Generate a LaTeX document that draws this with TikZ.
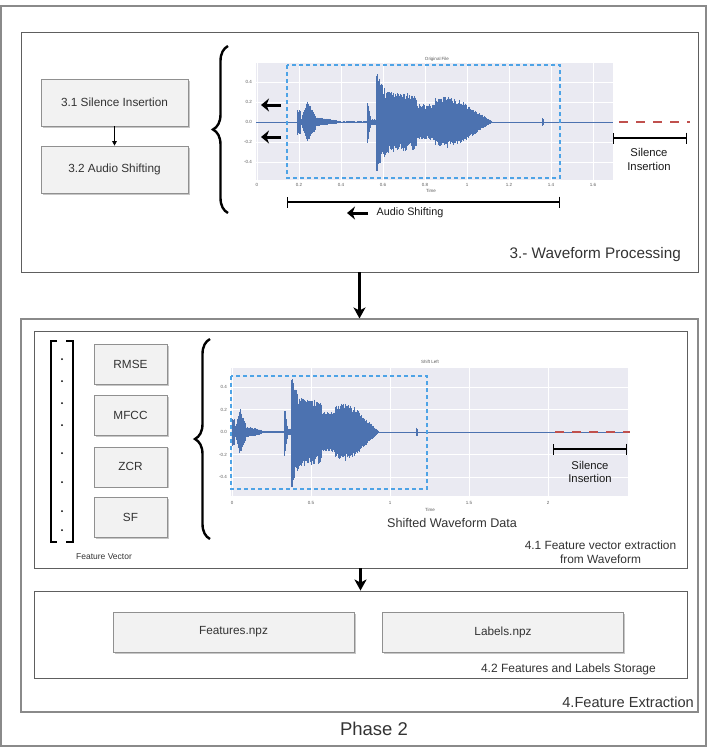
\documentclass[tikz,border=0pt]{standalone}
\usepackage{fontspec}
\setmainfont{Liberation Sans}
\usetikzlibrary{positioning, arrows.meta, calc, shadows, decorations.pathreplacing}

\definecolor{frameline}{HTML}{5E5E5E}
\definecolor{outerline}{HTML}{8A8A8A}
\definecolor{boxfill}{HTML}{F2F2F2}
\definecolor{boxline}{HTML}{909090}
\definecolor{boxtext}{HTML}{333333}
\definecolor{waveblue}{HTML}{4C72B0}
\definecolor{plotbg}{HTML}{EAEAF2}
\definecolor{cropblue}{HTML}{4DA3E6}
\definecolor{silred}{HTML}{C0504D}

\tikzset{
  zone/.style={draw=frameline, line width=0.9pt, inner sep=0pt},
  stage/.style={draw=boxline, fill=boxfill, line width=0.7pt, text=boxtext, inner sep=0pt,
    drop shadow={shadow xshift=1.5pt, shadow yshift=-1.5pt, fill=black!22, opacity=1},
    font=\fontsize{11.8}{14}\selectfont},
  caption/.style={text=boxtext, inner sep=0pt},
  ticklab/.style={font=\fontsize{4.5}{5}\selectfont, text=black!65, inner sep=0pt},
  annot/.style={text=black!90, inner sep=0pt, align=center},
  wavestroke/.style={draw=waveblue, line width=0.6pt},
  fatarrow/.style={line width=3pt, -{Stealth[length=8pt, width=13pt, inset=2.5pt]}},
  bigarrow/.style={line width=2.2pt, -{Stealth[length=11pt, width=12pt, inset=3pt]}},
  span/.style={line width=1.4pt, {Bar[width=11pt]}-{Bar[width=11pt]}},
  bigbrace/.style={line width=2.4pt, decorate, decoration={brace, amplitude=15pt}},
}

% one stretch of the clip: from, to, amplitude at start, amplitude at end
\newcommand\wavechunk[4]{%
  \pgfmathtruncatemacro\wn{max(1,round(2*(#2-#1)))}%
  \foreach \k in {0,...,\wn}{%
    \pgfmathsetmacro\wpos{#1+(#2-#1)*\k/\wn}%
    \pgfmathsetmacro\wamp{#3+(#4-#3)*\k/\wn}%
    \pgfmathsetmacro\wup{\wamp*(0.72+0.28*rnd)}%
    \pgfmathsetmacro\wdn{\wamp*(0.72+0.28*rnd)}%
    \draw[wavestroke] (\wpos,\wup) -- (\wpos,-\wdn);%
  }}

% the whole clip, in pixels of the first plot
\newcommand\speechclip{%
  \wavechunk{0}{3}{13}{13}
  \wavechunk{3}{5}{3}{3}
  \wavechunk{5}{10}{6}{22}
  \wavechunk{10}{18}{22}{8}
  \wavechunk{18}{39}{5}{2}
  \wavechunk{39}{70}{0.6}{0.6}
  \wavechunk{70}{73}{23}{8}
  \wavechunk{73}{79}{3}{3}
  \wavechunk{79}{81}{53}{53}
  \wavechunk{81}{88}{46}{33}
  \wavechunk{88}{119}{31}{28}
  \wavechunk{119}{138}{18}{18}
  \wavechunk{138}{150}{24}{26}
  \wavechunk{150}{163}{26}{22}
  \wavechunk{163}{195}{22}{0.6}
  \wavechunk{245}{246}{4}{4}}

\begin{document}
\begin{tikzpicture}[x=1pt, y=-1pt]
\useasboundingbox (0,0) rectangle (708,756);

% frames
\node[zone, draw=outerline, line width=1.2pt, minimum width=705pt, minimum height=740pt] (phasebox) at (353.5,376) {};
\node[zone, minimum width=677pt, minimum height=240pt] (wavebox) at (359.5,152) {};
\node[zone, draw=outerline, line width=1.1pt, minimum width=677pt, minimum height=393pt] (featbox) at (359.5,515.5) {};
\node[zone, minimum width=653pt, minimum height=237pt] (vecbox) at (360.5,449.5) {};
\node[zone, minimum width=653pt, minimum height=87pt] (storebox) at (360.5,634.5) {};

\node[caption, font=\fontsize{15.3}{17}\selectfont, anchor=east] (wavelab) at (681,255) {3.- Waveform Processing};
\node[caption, font=\fontsize{14.6}{17}\selectfont, anchor=east] (featlab) at (694,702) {4.Feature Extraction};
\node[caption, font=\fontsize{11.9}{14}\selectfont, align=center] (veclab) at (600.5,552) {4.1 Feature vector extraction\\from Waveform};
\node[caption, font=\fontsize{12}{14}\selectfont, anchor=east] (storelab) at (656,669) {4.2 Features and Labels Storage};
\node[caption, font=\fontsize{18.5}{20}\selectfont] (phaselab) at (374,729) {Phase 2};

% stage 3
\node[stage, minimum width=147pt, minimum height=47pt] (silbox) at (114.5,102.5) {3.1 Silence Insertion};
\node[stage, minimum width=147pt, minimum height=47pt] (shiftbox) at (114.5,169.5) {3.2 Audio Shifting};
\draw[line width=0.8pt, -{Triangle[length=4.5pt, width=4.5pt]}] (silbox) -- (shiftbox);
\draw[bigbrace] (228,213) -- (228,46);

% original clip
\fill[plotbg] (256,63) rectangle (613,180);
\foreach \y in {82,102,122,142,162}
  \draw[white, line width=0.5pt] (256,\y) -- (613,\y);
\foreach \lab [count=\k from 0] in {0,0.2,0.4,0.6,0.8,1,1.2,1.4,1.6}{
  \draw[white, line width=0.5pt] ({257+42*\k},63) -- ({257+42*\k},180);
  \node[ticklab] at ({257+42*\k},185) {\lab};
}
\foreach \lab [count=\k from 0] in {0.4,0.2,0.0,-0.2,-0.4}
  \node[ticklab, anchor=east] at (252,{82+20*\k}) {\lab};
\node[ticklab] (title1) at (437,59) {Original File};
\node[ticklab] (time1) at (431,191) {Time};
\draw[waveblue, line width=0.6pt] (256,122) -- (613,122);
\begin{scope}[shift={(297,122)}, x=1pt, y=1pt]
  \pgfmathsetseed{11}
  \speechclip
\end{scope}
\draw[cropblue, line width=1.3pt, dash pattern=on 4pt off 3pt] (287,65) rectangle (560,178);
\draw[silred, line width=2.6pt, dash pattern=on 9pt off 8pt] (619,122) -- (690,122);
\draw[fatarrow] (281,105) -- (261,105);
\draw[fatarrow] (281,137) -- (261,137);
\draw[span] (613,138) -- (687,138);
\node[annot, font=\fontsize{11.3}{14}\selectfont] (silA) at (649,159) {Silence\\Insertion};
\draw[span] (287,202) -- (560,202);
\draw[fatarrow] (368,213) -- (347,213);
\node[annot, font=\fontsize{10.8}{13}\selectfont] (shiftA) at (410,213) {Audio Shifting};

% stage 4.1
\draw[line width=1.3pt] (57,341) -| (51,542) -- (57,542);
\draw[line width=1.3pt] (66,341) -| (73,542) -- (66,542);
\foreach \y in {359,381,403,425,453,482,511,530}
  \fill (62,\y) circle (1pt);
\node[caption, font=\fontsize{8.5}{10}\selectfont] (vectorlab) at (104,557) {Feature Vector};
\node[stage, minimum width=73pt, minimum height=40pt] (rmse) at (130.5,364) {RMSE};
\node[stage, minimum width=73pt, minimum height=40pt, below=11pt of rmse] (mfcc) {MFCC};
\node[stage, minimum width=73pt, minimum height=40pt, below=10.5pt of mfcc] (zcr) {ZCR};
\node[stage, minimum width=73pt, minimum height=40pt, below=10pt of zcr] (sf) {SF};
\draw[bigbrace] (210,539) -- (210,339);

% shifted clip
\fill[plotbg] (231,368) rectangle (628,496);
\foreach \y in {387,409.5,432,454.5,477}
  \draw[white, line width=0.5pt] (231,\y) -- (628,\y);
\foreach \lab [count=\k from 0] in {0,0.5,1,1.5,2}{
  \draw[white, line width=0.5pt] ({232+79*\k},368) -- ({232+79*\k},496);
  \node[ticklab] at ({232+79*\k},503) {\lab};
}
\foreach \lab [count=\k from 0] in {0.4,0.2,0.0,-0.2,-0.4}
  \node[ticklab, anchor=east] at (227,{387+22.5*\k}) {\lab};
\node[ticklab] (title2) at (430,362) {Shift Left};
\node[ticklab] (time2) at (430,510) {Time};
\draw[waveblue, line width=0.6pt] (231,432) -- (628,432);
\begin{scope}[shift={(232,432)}, x=0.752pt, y=1.12pt]
  \pgfmathsetseed{11}
  \speechclip
\end{scope}
\draw[cropblue, line width=1.3pt, dash pattern=on 4pt off 3pt] (231,376) rectangle (427,489);
\draw[silred, line width=2.6pt, dash pattern=on 9pt off 8pt] (555,432) -- (630,432);
\draw[span] (553,449) -- (627,449);
\node[annot, font=\fontsize{11.3}{13}\selectfont] (silB) at (590,472) {Silence\\Insertion};
\node[caption, font=\fontsize{12.6}{15}\selectfont] (shiftdata) at (452,523) {Shifted Waveform Data};

% stage 4.2
\node[stage, minimum width=241pt, minimum height=40pt] (featnpz) at (233.5,632) {Features.npz};
\node[stage, minimum width=241pt, minimum height=40pt] (labnpz) at (503,632) {Labels.npz};

% flow
\draw[bigarrow] (wavebox.south) -- (featbox.north);
\draw[bigarrow] (vecbox.south) -- (storebox.north);
\end{tikzpicture}
\end{document}
